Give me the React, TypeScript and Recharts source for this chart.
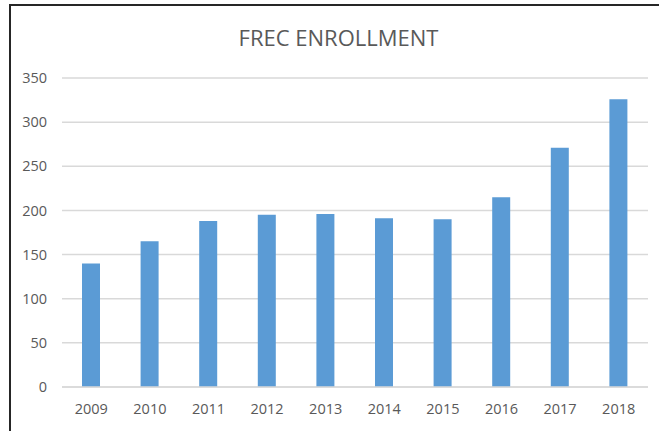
import React from "react";
import { BarChart, Bar, XAxis, YAxis, CartesianGrid } from "recharts";

// values
const years = ["2009", "2010", "2011", "2012", "2013", "2014", "2015", "2016", "2017", "2018"];
const enrollment = [140, 165, 188, 195, 196, 191, 190, 215, 271, 326];
const yTicks = [0, 50, 100, 150, 200, 250, 300, 350];

const data = years.map((year, i) => ({ year, value: enrollment[i] }));

const FONT = "'Open Sans', 'Noto Sans', sans-serif";
const TEXT = "#595959";

export default function App() {
  return (
    <div
      style={{
        position: "absolute",
        left: 0,
        top: 0,
        width: 659,
        height: 431,
        background: "#fff",
        overflow: "hidden",
      }}
    >
      {/* chart frame (left and top edges visible in the screenshot) */}
      <div
        style={{
          position: "absolute",
          left: 9,
          top: 4,
          width: 700,
          height: 500,
          borderLeft: "2px solid #262626",
          borderTop: "2px solid #262626",
        }}
      />
      <div
        style={{
          position: "absolute",
          left: 0,
          width: 677,
          top: 23,
          textAlign: "center",
          fontFamily: FONT,
          fontSize: 22,
          color: TEXT,
          lineHeight: "29px",
        }}
      >
        FREC ENROLLMENT
      </div>
      <div style={{ position: "absolute", left: 0, top: 0 }}>
        <BarChart
          width={659}
          height={431}
          data={data}
          margin={{ top: 78, right: 11, bottom: 0, left: 0 }}
          barSize={18}
        >
          <CartesianGrid vertical={false} stroke="#d9d9d9" strokeWidth={1.5} />
          <XAxis
            dataKey="year"
            height={44}
            tickSize={0}
            tickMargin={17}
            tickLine={false}
            axisLine={{ stroke: "#d9d9d9", strokeWidth: 1.5 }}
            tick={{ fill: TEXT, fontSize: 14.5, fontFamily: FONT }}
            interval={0}
          />
          <YAxis
            domain={[0, 350]}
            ticks={yTicks}
            width={62}
            tickSize={0}
            tickMargin={15}
            tickLine={false}
            axisLine={false}
            tick={{ fill: TEXT, fontSize: 14.5, fontFamily: FONT }}
          />
          <Bar dataKey="value" fill="#5b9bd5" isAnimationActive={false} />
        </BarChart>
      </div>
    </div>
  );
}
